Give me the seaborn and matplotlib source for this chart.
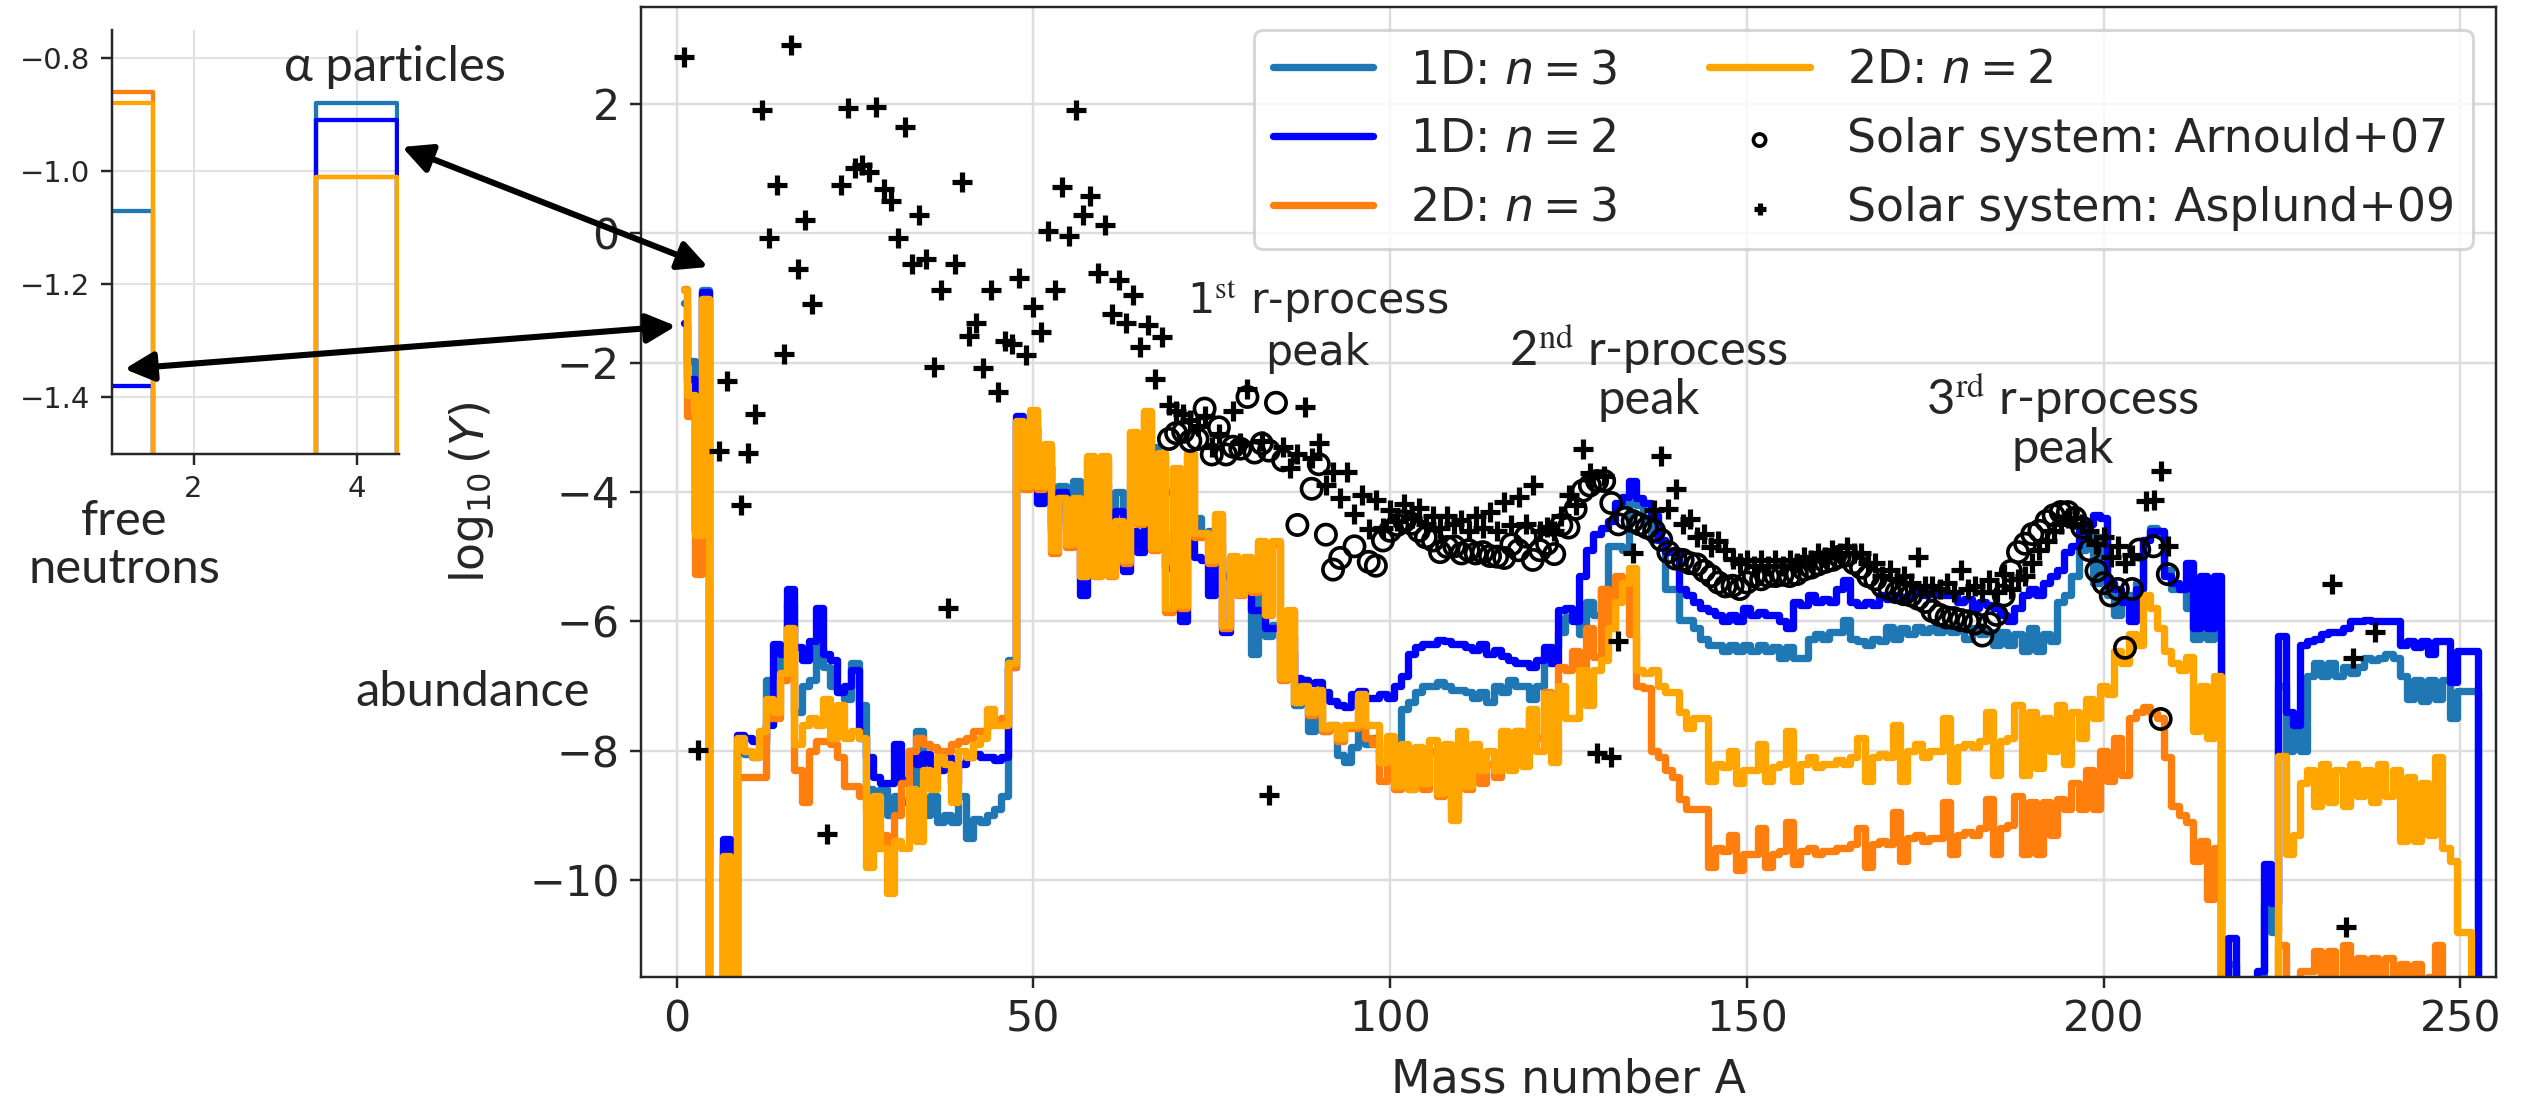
import numpy as np
import matplotlib
matplotlib.use("Agg")
import matplotlib.pyplot as plt
from matplotlib.patches import FancyArrowPatch
import seaborn as sns

sns.set_style("ticks")
plt.rcParams["font.family"] = ["DejaVu Sans"]
plt.rcParams["mathtext.fontset"] = "dejavusans"

# ---------------------------------------------------------------- data
mass_number = np.arange(1, 254)

# log10 of the final abundances (one value per mass number A = 1..253)
logY_1d_n3 = [
    -1.07, -1.97, -4.6, -0.88, -30, -30, -9.5, -30, -8.0, -8.05,
    -8.1, -7.8, -6.9, -7.0, -6.5, -5.7, -7.4, -7.0, -6.9, -6.4,
    -6.7, -7.0, -7.1, -7.2, -6.65, -7.3, -8.6, -8.9, -8.6, -9.0,
    -8.7, -8.8, -8.6, -7.7, -9.0, -8.7, -9.1, -9.0, -9.1, -8.7,
    -9.35, -9.05, -9.1, -9.0, -8.9, -8.7, -6.6, -2.9, -3.9, -3.0,
    -3.6, -3.6, -4.5, -3.9, -4.3, -3.83, -4.9, -3.8, -4.8, -3.86,
    -4.28, -4.0, -4.5, -3.9, -4.3, -3.8, -3.3, -3.6, -4.0, -4.2,
    -4.0, -4.5, -4.4, -4.63, -4.6, -4.8, -5.3, -5.2, -5.5, -5.5,
    -6.5, -5.46, -6.23, -6.05, -6.88, -6.23, -7.3, -6.9, -7.7, -7.3,
    -7.7, -7.6, -8.06, -8.18, -7.95, -7.6, -7.9, -7.8, -8.18, -8.18,
    -8.15, -7.35, -7.24, -7.1, -7.0, -7.0, -6.94, -7.0, -7.06, -7.06,
    -7.1, -7.18, -7.1, -7.24, -7.0, -7.1, -6.9, -7.0, -7.0, -7.2,
    -7.0, -6.65, -6.4, -6.17, -5.93, -5.9, -6.2, -5.7, -5.9, -5.5,
    -4.84, -4.84, -4.9, -4.17, -4.2, -4.45, -4.74, -4.74, -5.5, -5.5,
    -5.98, -5.98, -6.1, -6.27, -6.37, -6.37, -6.46, -6.37, -6.46, -6.37,
    -6.46, -6.37, -6.46, -6.4, -6.56, -6.4, -6.56, -6.56, -6.27, -6.2,
    -6.27, -6.17, -6.17, -5.98, -6.27, -6.3, -6.37, -6.27, -6.3, -6.08,
    -6.27, -6.1, -6.2, -6.08, -6.17, -6.1, -6.17, -6.08, -6.17, -6.1,
    -6.27, -6.1, -6.2, -6.17, -6.37, -6.17, -6.37, -6.2, -6.46, -6.1,
    -6.46, -6.2, -6.3, -5.7, -5.6, -5.3, -4.9, -4.65, -5.4, -4.7,
    -5.6, -5.9, -5.6, -5.6, -5.4, -4.74, -4.55, -4.65, -5.2, -5.5,
    -5.5, -5.8, -6.27, -5.9, -6.27, -6.1, -30, -11.3, -30, -30,
    -30, -11.6, -10.4, -10.8, -7.0, -8.0, -7.6, -8.0, -6.85, -6.65,
    -6.85, -6.65, -6.85, -6.7, -6.8, -6.7, -6.56, -6.6, -6.56, -6.5,
    -6.56, -6.85, -7.2, -6.9, -7.23, -6.9, -7.2, -6.9, -7.5, -7.08,
    -7.08, -7.08, -30,
]

logY_1d_n2 = [
    -1.38, -2.26, -4.6, -0.91, -30, -30, -9.37, -30, -7.75, -7.8,
    -7.85, -7.9, -7.6, -6.35, -6.5, -5.5, -6.4, -6.6, -6.3, -5.8,
    -6.5, -6.6, -7.1, -7.0, -6.75, -7.8, -8.1, -8.4, -8.5, -8.5,
    -7.9, -8.45, -8.0, -8.2, -8.05, -8.2, -8.3, -8.1, -8.5, -8.2,
    -8.1, -8.05, -8.1, -8.1, -8.15, -8.1, -6.7, -2.83, -3.9, -3.0,
    -4.17, -3.6, -4.6, -4.0, -4.5, -4.84, -5.6, -4.0, -5.1, -4.28,
    -5.17, -4.3, -5.22, -4.6, -4.93, -4.45, -4.5, -4.8, -5.17, -4.6,
    -6.0, -4.5, -5.0, -5.05, -5.6, -5.0, -6.17, -5.3, -5.5, -5.46,
    -5.82, -5.82, -6.1, -6.11, -6.29, -6.47, -6.88, -6.9, -6.95, -6.94,
    -7.1, -7.23, -7.3, -7.32, -7.12, -7.08, -7.18, -7.18, -7.12, -7.18,
    -7.0, -6.85, -6.5, -6.4, -6.35, -6.35, -6.29, -6.3, -6.35, -6.35,
    -6.4, -6.45, -6.35, -6.5, -6.45, -6.53, -6.6, -6.65, -6.65, -6.7,
    -6.6, -6.4, -6.65, -5.82, -5.8, -6.0, -5.3, -4.9, -4.65, -4.55,
    -4.45, -4.17, -4.07, -3.83, -4.1, -4.17, -4.36, -4.74, -4.93, -4.93,
    -5.5, -5.6, -5.7, -5.8, -5.84, -5.9, -6.0, -5.9, -6.0, -5.8,
    -5.9, -5.85, -5.9, -5.9, -6.0, -6.1, -5.7, -5.75, -5.6, -5.7,
    -5.65, -5.7, -5.5, -5.36, -5.7, -5.75, -5.7, -5.75, -5.6, -5.65,
    -5.6, -5.65, -5.6, -5.55, -5.6, -5.55, -5.6, -5.6, -5.6, -5.7,
    -5.65, -5.8, -5.7, -5.75, -5.8, -5.9, -6.0, -5.8, -5.6, -5.5,
    -5.6, -5.4, -5.3, -5.2, -4.93, -4.84, -4.6, -4.5, -4.36, -4.4,
    -5.4, -5.5, -5.7, -6.0, -5.5, -4.74, -4.6, -4.6, -5.3, -5.4,
    -5.5, -5.1, -6.1, -5.3, -6.1, -5.3, -30, -10.9, -30, -30,
    -30, -11.4, -9.76, -10.35, -6.22, -7.4, -7.6, -6.37, -6.3, -6.27,
    -6.2, -6.17, -6.17, -6.1, -6.0, -6.0, -5.98, -6.0, -6.0, -6.0,
    -6.0, -6.37, -6.3, -6.4, -6.3, -6.5, -6.3, -6.3, -6.94, -6.46,
    -6.46, -6.46, -30,
]

logY_2d_n3 = [
    -0.86, -2.83, -5.27, -1.01, -30, -30, -9.75, -30, -8.4, -8.4,
    -8.4, -8.4, -7.5, -7.5, -6.9, -6.4, -8.3, -8.8, -8.0, -7.85,
    -7.85, -7.9, -8.1, -8.55, -8.55, -8.7, -8.9, -9.5, -9.3, -9.5,
    -9.0, -8.5, -8.0, -7.8, -7.9, -7.95, -8.0, -8.0, -7.9, -7.85,
    -7.8, -7.7, -7.7, -7.6, -7.55, -7.5, -6.7, -2.95, -3.95, -2.8,
    -3.95, -3.3, -4.95, -4.1, -4.85, -4.15, -5.3, -3.5, -5.3, -3.5,
    -5.3, -4.5, -5.1, -3.1, -4.5, -2.8, -4.9, -3.45, -5.85, -3.7,
    -5.8, -3.45, -4.7, -4.7, -5.1, -4.4, -6.1, -5.05, -5.6, -5.05,
    -5.55, -4.8, -5.9, -4.8, -6.9, -5.85, -7.25, -7.05, -7.45, -7.1,
    -7.7, -7.65, -7.85, -7.65, -7.65, -7.2, -7.8, -7.9, -8.47, -7.95,
    -8.6, -8.1, -8.6, -8.15, -8.6, -8.0, -8.7, -8.2, -8.9, -8.0,
    -8.6, -8.1, -8.5, -8.2, -8.4, -8.0, -8.2, -7.7, -8.0, -7.4,
    -7.8, -7.1, -7.4, -6.7, -6.75, -6.46, -6.75, -6.1, -6.55, -5.5,
    -6.1, -5.3, -5.4, -6.2, -7.0, -7.03, -8.0, -8.1, -8.3, -8.4,
    -8.75, -8.9, -8.9, -8.9, -9.8, -9.5, -9.55, -9.3, -9.85, -9.6,
    -9.6, -9.2, -9.8, -9.6, -9.55, -9.1, -9.75, -9.55, -9.5, -9.6,
    -9.55, -9.55, -9.5, -9.5, -9.45, -9.2, -9.8, -9.45, -9.4, -9.45,
    -8.95, -9.7, -9.35, -9.3, -9.4, -9.35, -9.35, -8.8, -9.6, -9.3,
    -9.25, -9.3, -9.2, -8.75, -9.6, -9.2, -9.15, -8.7, -9.6, -8.8,
    -9.6, -8.8, -9.3, -8.75, -8.9, -8.5, -8.9, -8.3, -8.9, -8.0,
    -8.47, -7.8, -8.37, -7.5, -7.4, -7.32, -7.42, -7.5, -8.1, -8.85,
    -9.0, -9.1, -9.7, -9.4, -10.3, -9.5, -30, -30, -30, -30,
    -30, -30, -30, -30, -11.0, -11.9, -12.0, -11.4, -11.4, -11.1,
    -12.0, -11.1, -11.6, -11.0, -11.7, -11.2, -11.6, -11.2, -11.7, -11.2,
    -11.6, -11.3, -11.8, -11.3, -11.7, -11.5, -11.0, -11.8, -30, -30,
    -30, -30, -30,
]

logY_2d_n2 = [
    -0.88, -2.5, -4.66, -1.01, -30, -30, -9.63, -30, -7.8, -8.0,
    -8.1, -7.7, -7.2, -7.4, -6.8, -6.1, -7.9, -7.6, -7.5, -7.6,
    -7.2, -7.8, -7.3, -7.8, -7.7, -7.8, -9.8, -8.7, -9.5, -10.2,
    -9.4, -9.5, -8.6, -9.4, -8.3, -8.6, -8.1, -8.2, -8.8, -8.0,
    -8.1, -7.9, -7.8, -7.35, -7.6, -7.6, -6.65, -2.9, -3.9, -2.73,
    -3.9, -3.26, -4.9, -4.1, -4.8, -4.1, -5.3, -3.45, -5.3, -3.45,
    -5.28, -4.45, -5.05, -3.07, -4.46, -2.74, -4.87, -3.4, -5.8, -3.63,
    -5.75, -3.4, -4.63, -4.63, -5.05, -4.34, -6.05, -4.99, -5.58, -5.0,
    -5.5, -4.75, -5.88, -4.75, -6.88, -5.82, -7.24, -7.0, -7.4, -7.06,
    -7.65, -7.6, -7.8, -7.6, -7.6, -7.12, -7.6, -7.6, -8.18, -7.77,
    -8.54, -7.9, -8.6, -7.95, -8.5, -7.83, -8.66, -7.9, -9.07, -7.7,
    -8.54, -7.9, -8.3, -8.0, -8.3, -7.7, -8.3, -7.7, -8.24, -7.35,
    -8.0, -7.12, -8.18, -7.0, -7.5, -7.5, -6.75, -7.3, -6.75, -6.6,
    -6.1, -5.7, -5.4, -5.17, -6.75, -6.8, -6.75, -7.0, -7.1, -7.1,
    -7.4, -7.65, -7.5, -7.5, -8.47, -8.2, -8.25, -8.0, -8.5, -8.3,
    -8.3, -7.9, -8.47, -8.25, -8.2, -7.7, -8.47, -8.2, -8.1, -8.25,
    -8.2, -8.2, -8.15, -8.2, -8.1, -7.8, -8.47, -8.1, -8.05, -8.1,
    -7.6, -8.47, -8.0, -7.9, -8.1, -8.0, -8.0, -7.5, -8.47, -7.95,
    -7.9, -7.95, -7.85, -7.4, -8.37, -7.85, -7.8, -7.3, -8.37, -7.4,
    -8.27, -7.5, -8.0, -7.3, -8.2, -7.4, -7.8, -7.2, -7.5, -7.0,
    -7.13, -6.46, -6.65, -6.2, -6.37, -5.6, -5.8, -6.1, -6.46, -6.65,
    -6.75, -6.55, -7.7, -7.0, -7.8, -6.85, -30, -30, -30, -30,
    -30, -30, -30, -30, -8.08, -9.6, -9.3, -8.5, -8.3, -8.85,
    -8.2, -8.8, -8.3, -8.85, -8.2, -8.7, -8.3, -8.8, -8.2, -8.7,
    -8.3, -9.4, -8.4, -9.4, -8.5, -9.3, -8.1, -9.5, -9.7, -10.8,
    -10.8, -30, -30,
]

# solar-system abundances
asplund_A = [
    1, 3, 6, 7, 9, 10, 11, 12, 13, 14, 15, 16, 17, 18, 19, 21, 23, 24, 25, 26,
    27, 28, 29, 30, 31, 32, 33, 34, 35, 36, 37, 38, 39, 40, 41, 42, 43, 44, 45, 46,
    47, 48, 49, 50, 51, 52, 53, 54, 55, 56, 57, 58, 59, 60, 61, 62, 63, 64, 65, 66,
    67, 68, 69, 70, 71, 72, 73, 74, 75, 76, 78, 79, 80, 82, 83, 85, 86, 87, 88, 89,
    90, 91, 92, 93, 94, 95, 96, 97, 98, 99, 100, 101, 102, 103, 104, 105, 106, 107, 108, 109,
    110, 111, 112, 113, 114, 115, 116, 117, 118, 119, 120, 121, 122, 123, 124, 125, 126, 127, 128, 129,
    130, 131, 132, 134, 137, 138, 139, 140, 141, 142, 143, 144, 145, 146, 147, 148, 149, 150, 151, 152,
    153, 154, 155, 156, 157, 158, 159, 160, 161, 162, 163, 164, 165, 166, 167, 168, 169, 170, 171, 172,
    173, 174, 175, 176, 177, 178, 179, 180, 181, 182, 183, 184, 185, 186, 187, 188, 189, 190, 191, 192,
    193, 194, 195, 196, 197, 198, 199, 200, 201, 202, 203, 204, 206, 207, 208, 209, 232, 234, 235, 238,
]
asplund_logY = [
    2.72, -7.99, -3.36, -2.29, -4.2, -3.39, -2.8, 1.91, -0.07, 0.75, -1.87, 2.91, -0.55, 0.2, -1.1, -9.29, 0.75, 1.94, 1.01, 1.06,
    0.95, 1.96, 0.69, 0.5, -0.07, 1.64, -0.47, 0.29, -0.39, -2.06, -0.87, -5.8, -0.47, 0.8, -1.58, -1.39, -2.09, -0.87, -2.45, -1.66,
    -1.71, -0.69, -1.88, -1.14, -1.53, 0.04, -0.87, 0.72, -0.04, 1.91, 0.29, 0.58, -0.61, 0.13, -1.25, -0.72, -1.39, -0.96, -1.75, -1.41,
    -2.25, -1.6, -2.65, -2.74, -2.8, -2.89, -2.98, -2.83, -3.3, -3.1, -2.74, -3.24, -2.41, -3.21, -8.69, -3.3, -3.63, -3.42, -2.68, -3.48,
    -3.24, -3.89, -3.69, -4.1, -3.69, -4.34, -4.04, -4.57, -4.13, -4.55, -4.28, -4.45, -4.19, -4.4, -4.25, -4.5, -4.37, -4.55, -4.37, -4.5,
    -4.43, -4.6, -4.37, -4.55, -4.31, -4.6, -4.16, -4.51, -4.07, -4.49, -3.89, -4.6, -4.54, -4.6, -4.37, -4.04, -4.2, -3.33, -3.7, -8.04,
    -3.75, -8.1, -6.3, -4.95, -4.28, -3.45, -4.26, -3.96, -4.5, -4.41, -4.7, -4.65, -4.85, -4.76, -4.9, -5.03, -5.1, -5.05, -5.15, -5.05,
    -5.15, -5.05, -5.15, -5.05, -5.1, -5.0, -5.05, -4.95, -5.0, -4.9, -4.95, -4.85, -4.95, -4.95, -5.1, -5.1, -5.3, -5.2, -5.35, -5.3,
    -5.4, -5.0, -5.45, -5.45, -5.5, -5.4, -5.55, -5.2, -5.5, -5.45, -5.55, -5.36, -5.55, -5.27, -5.5, -5.35, -5.3, -5.1, -4.9, -4.75,
    -4.6, -4.5, -4.4, -4.4, -4.5, -4.6, -4.8, -4.7, -5.0, -4.84, -5.1, -4.98, -4.14, -4.12, -3.67, -4.84, -5.42, -10.72, -6.56, -6.17,
]

arnould_A = [
    69, 70, 71, 72, 73, 74, 75, 76, 77, 78, 79, 80, 81, 82, 83, 84, 85, 87, 89, 90,
    91, 92, 93, 95, 97, 98, 99, 100, 101, 102, 103, 104, 105, 106, 107, 108, 109, 110, 111, 112,
    113, 114, 115, 116, 117, 118, 119, 120, 121, 122, 123, 124, 125, 126, 127, 128, 129, 130, 131, 132,
    133, 134, 135, 136, 137, 138, 139, 140, 141, 142, 143, 144, 145, 146, 147, 148, 149, 150, 151, 152,
    153, 154, 155, 156, 157, 158, 159, 160, 161, 162, 163, 164, 165, 166, 167, 168, 169, 170, 171, 172,
    173, 174, 175, 176, 177, 178, 179, 180, 181, 182, 183, 184, 185, 186, 187, 188, 189, 190, 191, 192,
    193, 194, 195, 196, 197, 198, 199, 200, 201, 202, 203, 204, 205, 207, 208, 209,
]
arnould_logY = [
    -3.18, -3.09, -3.07, -3.21, -3.18, -2.71, -3.42, -3.0, -3.42, -3.3, -3.33, -2.53, -3.39, -3.25, -3.36, -2.62, -3.51, -4.51, -3.95, -3.57,
    -4.66, -5.2, -5.02, -4.84, -5.08, -5.14, -4.75, -4.6, -4.51, -4.45, -4.49, -4.6, -4.7, -4.75, -4.93, -4.85, -4.84, -4.95, -4.9, -4.95,
    -4.93, -4.99, -5.0, -5.02, -4.81, -4.9, -4.69, -5.05, -4.9, -4.8, -4.96, -4.51, -4.55, -4.26, -3.98, -3.9, -3.83, -3.83, -4.17, -4.5,
    -4.4, -4.45, -4.5, -4.55, -4.6, -4.74, -4.93, -5.03, -5.05, -5.1, -5.12, -5.22, -5.3, -5.4, -5.46, -5.45, -5.5, -5.4, -5.3, -5.35,
    -5.3, -5.3, -5.28, -5.3, -5.27, -5.2, -5.17, -5.12, -5.08, -5.05, -5.0, -4.98, -5.1, -5.17, -5.3, -5.35, -5.46, -5.5, -5.55, -5.58,
    -5.6, -5.65, -5.7, -5.84, -5.9, -5.94, -5.95, -5.98, -6.0, -6.03, -6.22, -6.03, -5.9, -5.6, -5.22, -4.93, -4.8, -4.65, -4.6, -4.45,
    -4.36, -4.31, -4.31, -4.4, -4.55, -4.9, -5.22, -5.41, -5.6, -5.5, -6.41, -5.5, -4.89, -4.84, -7.51, -5.27,
]

for arr in (logY_1d_n3, logY_1d_n2, logY_2d_n3, logY_2d_n2):
    assert len(arr) == len(mass_number), len(arr)
assert len(asplund_A) == len(asplund_logY)
assert len(arnould_A) == len(arnould_logY)

series = [
    ("1D: $n = 3$", logY_1d_n3, "#1f77b4"),
    ("1D: $n = 2$", logY_1d_n2, "#0000ff"),
    ("2D: $n = 3$", logY_2d_n3, "#ff7f0e"),
    ("2D: $n = 2$", logY_2d_n2, "#ffa500"),
]

W, H = 2524, 1100
fig = plt.figure(figsize=(W / 220, H / 220), dpi=220)

# ---------------------------------------------------------------- main panel
ax = fig.add_axes([641 / W, 1 - 977 / H, 1855 / W, 970 / H])
for label, vals, color in series:
    sns.lineplot(x=mass_number, y=vals, ax=ax, color=color, lw=2.4,
                 drawstyle="steps-mid", estimator=None, sort=False, label=label)
sns.scatterplot(x=arnould_A, y=arnould_logY, ax=ax, marker="o", s=44,
                facecolors="none", edgecolor="k", linewidth=1.2,
                label="Solar system: Arnould+07", zorder=3)
sns.scatterplot(x=asplund_A, y=asplund_logY, ax=ax, marker="+", s=42,
                color="k", linewidth=1.7,
                label="Solar system: Asplund+09", zorder=3)

ax.set_xlim(-5, 255)
ax.set_ylim(-11.5, 3.5)
ax.set_axisbelow(True)
ax.grid(True, color="#dddddd", lw=0.8)
ax.tick_params(labelsize=14)
ax.set_xlabel("Mass number A", fontsize=15)
ax.set_ylabel(r"$\log_{10}(Y)$", fontsize=15)
ax.yaxis.set_label_coords(-0.078, 0.5)
ax.xaxis.set_label_coords(0.5, -0.083)

ax.legend(loc="upper right", ncol=2, fontsize=15, labelspacing=0.52,
          handlelength=2.2, columnspacing=2.0, handletextpad=0.8,
          borderaxespad=0.5, markerscale=0.6)

ax.text(89.8, -1.44, "1$^{\\rm st}$ r-process\npeak", ha="center", va="center",
        fontsize=14, math_fontfamily="stix")
label_font = ["Lato", "DejaVu Sans"]
ax.text(136.2, -2.15, "2$^{\\rm nd}$ r-process\npeak", ha="center", va="center",
        fontsize=16, family=label_font, linespacing=1.05, math_fontfamily="stix")
ax.text(194.2, -2.9, "3$^{\\rm rd}$ r-process\npeak", ha="center", va="center",
        fontsize=16, family=label_font, linespacing=1.05, math_fontfamily="stix")

# ---------------------------------------------------------------- zoomed panel
ins = fig.add_axes([112 / W, 1 - 454 / H, 287 / W, 424 / H])
for label, vals, color in series:
    sns.lineplot(x=mass_number, y=vals, ax=ins, color=color, lw=1.4,
                 drawstyle="steps-mid", estimator=None, sort=False, legend=False)
ins.set_xlim(1, 4.52)
ins.set_ylim(-1.5, -0.75)
ins.set_xticks([2, 4])
ins.set_yticks([-1.4, -1.2, -1.0, -0.8])
ins.set_axisbelow(True)
ins.grid(True, color="#e3e3e3", lw=0.7)
ins.tick_params(labelsize=9.5)
ins.set_xlabel("")
ins.set_ylabel("")
sns.despine(ax=ins)

# ---------------------------------------------------------------- callouts
fig.text(395 / W, 1 - 67 / H, "α particles", ha="center", va="center",
         fontsize=16, family=label_font)
fig.text(124 / W, 1 - 545 / H, "free\nneutrons", ha="center", va="center",
         fontsize=16, family=label_font, linespacing=1.1)
fig.text(473 / W, 1 - 692 / H, "abundance", ha="center", va="center",
         fontsize=16, family=label_font)

for (x1, y1), (x2, y2) in [((402, 147), (708, 267)), ((124.5, 369), (676, 326))]:
    fig.add_artist(FancyArrowPatch(
        posA=(x1 / W, 1 - y1 / H), posB=(x2 / W, 1 - y2 / H),
        transform=fig.transFigure, arrowstyle="<|-|>", mutation_scale=20,
        lw=2, color="k", shrinkA=0, shrinkB=0))

fig.savefig("out.png", dpi=220)
